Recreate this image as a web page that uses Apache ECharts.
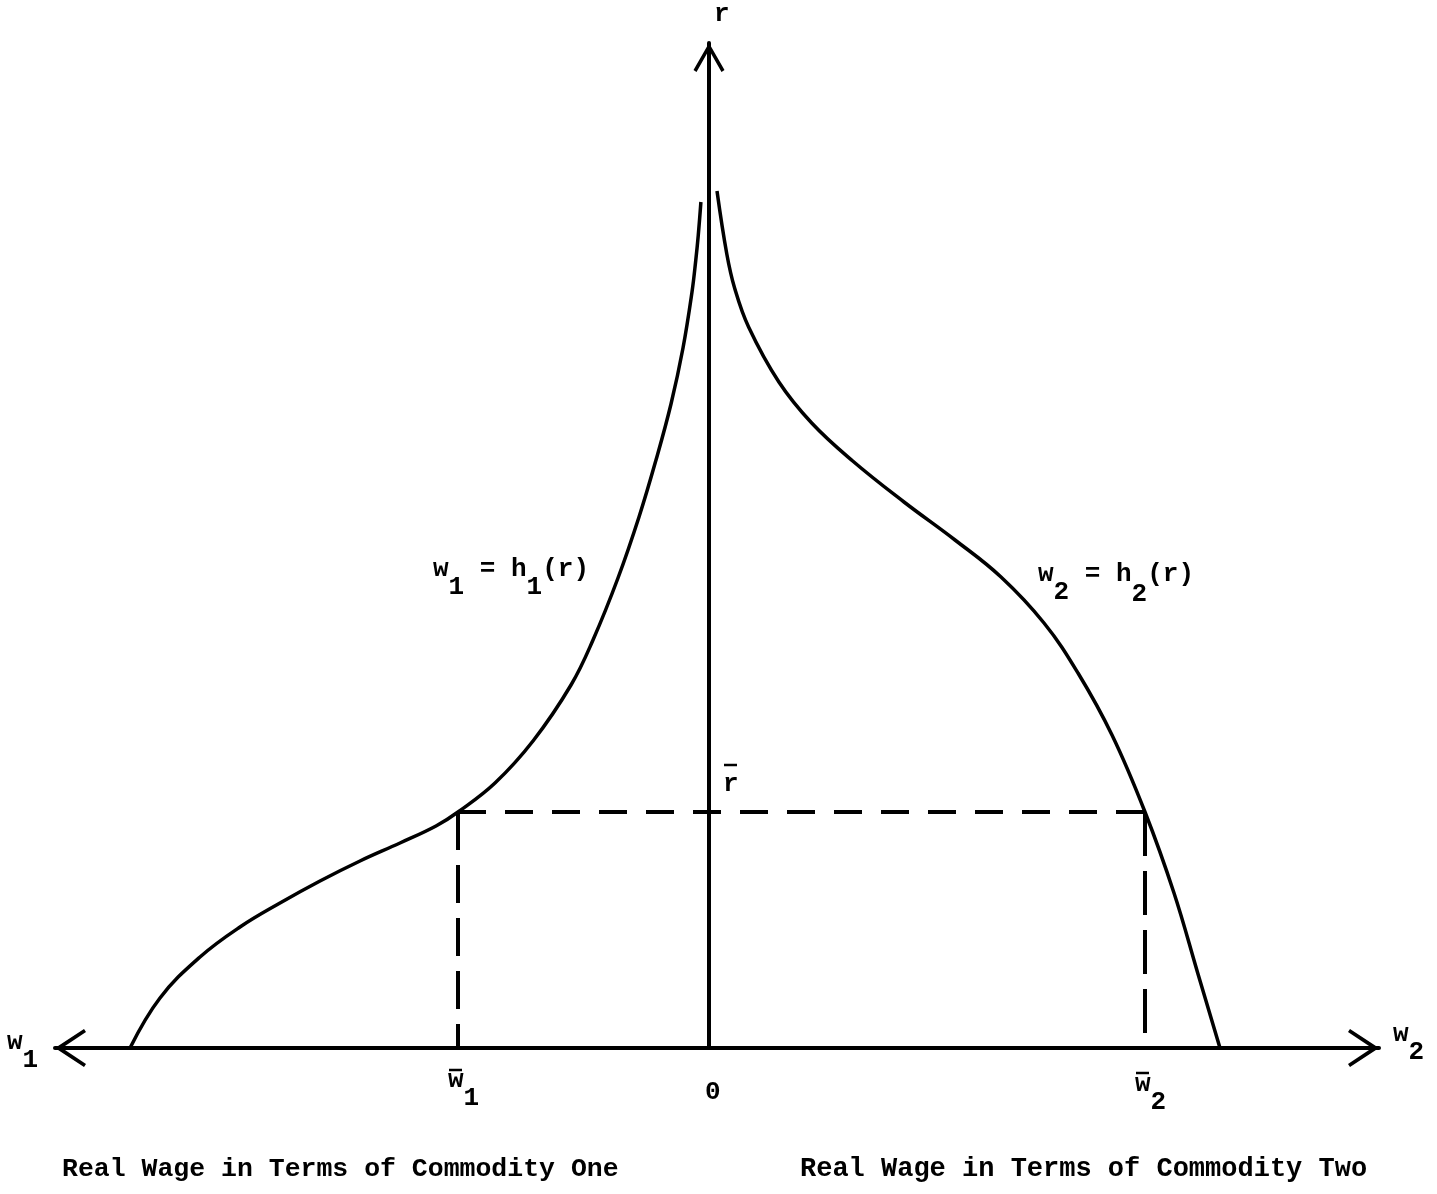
<!DOCTYPE html>
<html>
<head>
<meta charset="utf-8">
<script src="https://cdn.jsdelivr.net/npm/echarts@6/dist/echarts.min.js"></script>
<style>
  html, body { margin: 0; padding: 0; background: #fff; }
  #chart { width: 1437px; height: 1194px; }
</style>
</head>
<body>
<div id="chart"></div>
<script>
// w1 = h1(r), drawn on the left (negative) side of the origin
var h1W = [-57.9, -54.9, -50.9, -46.9, -42.9, -38.9, -34.9, -30.9, -27.3, -25.1, -21.4, -17.6, -13.8, -11.6, -9.1, -7.0, -5.3, -3.8, -2.6, -1.7, -1.32, -1.08, -0.81];
var h1R = [0, 5.0, 9.1, 12.1, 14.5, 16.7, 18.7, 20.5, 22.2, 23.6, 26.5, 30.7, 36.3, 40.8, 47.0, 53.1, 58.8, 64.4, 70.0, 75.6, 78.8, 81.2, 84.6];
// w2 = h2(r), drawn on the right side
var h2W = [0.8, 1.78, 2.56, 3.96, 6.99, 10.27, 14.37, 19.5, 24.6, 29.2, 33.5, 36.9, 40.3, 43.6, 46.5, 48.9, 51.1];
var h2R = [85.7, 79.4, 76.0, 72.1, 66.6, 62.5, 58.7, 54.6, 50.8, 47.1, 42.5, 37.5, 31.3, 23.6, 15.5, 7.4, 0];
// the r-bar level and the wages it gives
var rBar = 23.6;
var w1Bar = -25.1;
var w2Bar = 43.6;

var FONT = '"Liberation Mono", "DejaVu Sans Mono", monospace';
var ink = '#000';

function zip(xs, ys) {
    return xs.map(function (x, i) { return [x, ys[i]]; });
}

// open chevron arrow heads (pointing up, rotated by the axis)
var arrowX = 'path://M0,0 L19,29 L16,31 L0,7 L-16,31 L-19,29 Z';
var arrowY = 'path://M0,0 L15.5,27 L12.5,29 L0,7 L-12.5,29 L-15.5,27 Z';

var chart = echarts.init(document.getElementById('chart'));

var option = {
    backgroundColor: '#fff',
    animation: false,
    grid: { left: 55, right: 58, top: 43, bottom: 146 },
    xAxis: {
        type: 'value', min: -65.4, max: 67.0,
        axisLine: {
            lineStyle: { color: ink, width: 4 },
            symbol: [arrowX, arrowX],
            symbolSize: [38, 31],
            symbolOffset: [15.5, -15.5]
        },
        axisTick: { show: false }, axisLabel: { show: false }, splitLine: { show: false }
    },
    yAxis: {
        type: 'value', min: 0, max: 100.5,
        axisLine: {
            show: true,
            onZero: true,
            lineStyle: { color: ink, width: 4 },
            symbol: ['none', arrowY],
            symbolSize: [31, 29],
            symbolOffset: [0, -14.5]
        },
        axisTick: { show: false }, axisLabel: { show: false }, splitLine: { show: false }
    },
    series: [
        {
            name: 'h1', type: 'line', data: zip(h1W, h1R), smooth: 0.4, showSymbol: false,
            lineStyle: { color: ink, width: 3.5 }, clip: false
        },
        {
            name: 'h2', type: 'line', data: zip(h2W, h2R), smooth: 0.4, showSymbol: false,
            lineStyle: { color: ink, width: 3.5 }, clip: false
        },
        {
            name: 'rbar', type: 'line', data: [[w1Bar, rBar], [w2Bar, rBar]], showSymbol: false,
            lineStyle: { color: ink, width: 4, type: [28, 19] }
        },
        {
            name: 'w1bar', type: 'line', data: [[w1Bar, rBar], [w1Bar, 0]], showSymbol: false,
            lineStyle: { color: ink, width: 4, type: [38, 15] }
        },
        {
            name: 'w2bar', type: 'line', data: [[w2Bar, rBar], [w2Bar, 0]], showSymbol: false,
            lineStyle: { color: ink, width: 4, type: [44, 15] }
        }
    ]
};
chart.setOption(option);

function t(x, y, s, size) {
    return {
        type: 'text', x: x, y: y, silent: true,
        style: { text: s, font: 'bold ' + (size || 26) + 'px ' + FONT, fill: ink, textAlign: 'left', textVerticalAlign: 'middle' }
    };
}
function bar(x, y) {
    return { type: 'line', silent: true, shape: { x1: x, y1: y, x2: x + 13, y2: y }, style: { stroke: ink, lineWidth: 2.5 } };
}
// letter with a lowered subscript
function sub(x, y, main, s, cw) {
    cw = cw || 15.6;
    return [t(x, y, main), t(x + cw * main.length, y + 18, s)];
}

function px(w, r) { return chart.convertToPixel({ gridIndex: 0 }, [w, r]); }

var p1 = px(w1Bar, 0), p2 = px(w2Bar, 0), p0 = px(0, 0), pr = px(0, rBar), pTop = px(0, 100.5);
var cw = 15.6;
var g = [];
// axis names
g.push(t(pTop[0] + 5, 14, 'r'));
g = g.concat(sub(7, 1042, 'w', '1'));
g = g.concat(sub(1393, 1034, 'w', '2'));
// tick labels
g.push(bar(p1[0] - 9, 1070));
g = g.concat(sub(p1[0] - 10, 1080, 'w', '1'));
g.push(t(p0[0] - 4, 1092, '0'));
g.push(bar(p2[0] - 9, 1073));
g = g.concat(sub(p2[0] - 10, 1084, 'w', '2'));
g.push(bar(pr[0] + 15, pr[1] - 47));
g.push(t(pr[0] + 14, pr[1] - 28, 'r'));
// curve labels
g = g.concat(sub(433, 569, 'w', '1'));
g.push(t(433 + 2 * cw, 569, ' = h'));
g.push(t(433 + 6 * cw, 587, '1'));
g.push(t(433 + 7 * cw, 569, '(r)'));
g = g.concat(sub(1038, 574, 'w', '2'));
g.push(t(1038 + 2 * cw, 574, ' = h'));
g.push(t(1038 + 6 * cw, 594, '2'));
g.push(t(1038 + 7 * cw, 574, '(r)'));
// captions
g.push(t(62, 1169, 'Real Wage in Terms of Commodity One', 26.5));
g.push(t(800, 1169, 'Real Wage in Terms of Commodity Two', 27));

chart.setOption({ graphic: g });
</script>
</body>
</html>
